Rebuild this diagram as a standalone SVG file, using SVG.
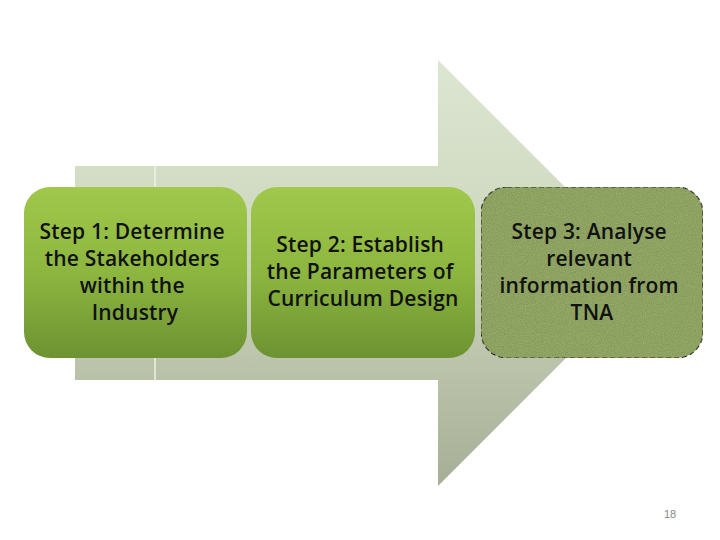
<svg xmlns="http://www.w3.org/2000/svg" width="720" height="540" viewBox="0 0 720 540">
  <defs>
    <linearGradient id="arrowGrad" x1="0" y1="60" x2="0" y2="486" gradientUnits="userSpaceOnUse">
      <stop offset="0" stop-color="#dde6d1"/>
      <stop offset="0.5" stop-color="#cbd4bb"/>
      <stop offset="1" stop-color="#a6ae96"/>
    </linearGradient>
    <linearGradient id="boxGrad" x1="0" y1="0" x2="0" y2="1">
      <stop offset="0" stop-color="#a0c84b"/>
      <stop offset="0.5" stop-color="#8db63f"/>
      <stop offset="1" stop-color="#6d9232"/>
    </linearGradient>
    <filter id="grain" x="0" y="0" width="1" height="1">
      <feTurbulence type="fractalNoise" baseFrequency="0.9" numOctaves="2" seed="3" result="n"/>
      <feColorMatrix in="n" type="matrix" values="0 0 0 0 0.7  0 0 0 0 0.8  0 0 0 0 0.55  0 0 0 0.3 -0.08" result="spk"/>
      <feComposite in="spk" in2="SourceGraphic" operator="in" result="spk2"/>
      <feMerge>
        <feMergeNode in="SourceGraphic"/>
        <feMergeNode in="spk2"/>
      </feMerge>
    </filter>
    <style>
      .box { fill: url(#boxGrad); }
      .box3 { fill: #869b55; stroke: #111; stroke-width: 1.2; stroke-dasharray: 5 3; }
      .label { font-family: "Open Sans", "Liberation Sans", sans-serif; font-weight: 600; font-size: 21px; letter-spacing: 0.2px; fill: #111; text-anchor: middle; }
      .pg { font-family: "Liberation Sans", sans-serif; font-size: 11px; fill: #898989; text-anchor: middle; }
    </style>
  </defs>

  <g id="arrow">
    <path d="M75,166 H438 V60 L651,273 L438,486 V380 H75 Z" fill="url(#arrowGrad)"/>
    <line x1="155" y1="166" x2="155" y2="380" stroke="#eef2e8" stroke-width="1.5"/>
  </g>

  <g id="step1">
    <rect class="box" x="24" y="187" width="223" height="171" rx="26"/>
    <text class="label">
      <tspan x="135" y="239">Step 1: Determine</tspan>
      <tspan x="135" y="266">the Stakeholders</tspan>
      <tspan x="135" y="293">within the</tspan>
      <tspan x="135" y="320">Industry</tspan>
    </text>
  </g>

  <g id="step2">
    <rect class="box" x="251" y="187" width="224" height="171" rx="26"/>
    <text class="label">
      <tspan x="363" y="252">Step 2: Establish</tspan>
      <tspan x="363" y="279">the Parameters of</tspan>
      <tspan x="363" y="306">Curriculum Design</tspan>
    </text>
  </g>

  <g id="step3">
    <rect class="box3" x="481" y="187" width="222" height="171" rx="26" filter="url(#grain)"/>
    <text class="label">
      <tspan x="592" y="239">Step 3: Analyse</tspan>
      <tspan x="592" y="266">relevant</tspan>
      <tspan x="592" y="293">information from</tspan>
      <tspan x="592" y="320">TNA</tspan>
    </text>
  </g>

  <g id="connectors"></g>

  <text class="pg" x="670" y="518">18</text>
</svg>
